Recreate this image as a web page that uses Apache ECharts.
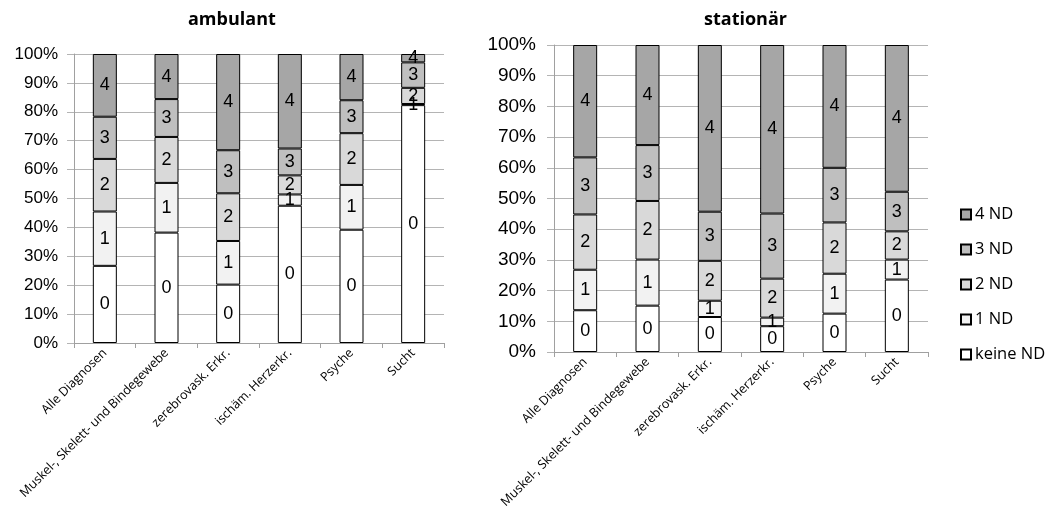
<!DOCTYPE html>
<html>
<head>
<meta charset="utf-8">
<script src="https://cdn.jsdelivr.net/npm/echarts@6/dist/echarts.min.js"></script>
<style>html,body{margin:0;padding:0;background:#fff}#c{width:1051px;height:516px}</style>
</head>
<body>
<div id="c"></div>
<script>
const categories = ['Alle Diagnosen', 'Muskel-, Skelett- und Bindegewebe', 'zerebrovask. Erkr.', 'ischäm. Herzerkr.', 'Psyche', 'Sucht'];
const seriesNames = ['keine ND', '1 ND', '2 ND', '3 ND', '4 ND'];
const segLabels = ['0', '1', '2', '3', '4'];
const titles = ['ambulant', 'stationär'];

// ambulant (percent)
const amb0 = [26.7, 38.2, 20.2, 47.5, 39.2, 82.3];
const amb1 = [18.8, 17.2, 15.1, 3.9, 15.5, 0.4];
const amb2 = [18.2, 15.9, 16.5, 6.6, 17.9, 5.6];
const amb3 = [14.6, 13.1, 14.9, 9.3, 11.4, 8.8];
const amb4 = [21.7, 15.6, 33.3, 32.7, 16.0, 2.9];

// stationär (percent)
const sta0 = [13.6, 15.1, 11.4, 8.4, 12.5, 23.6];
const sta1 = [13.2, 15.0, 5.3, 2.8, 13.0, 6.5];
const sta2 = [18.0, 19.1, 13.0, 12.7, 16.7, 9.2];
const sta3 = [18.6, 18.2, 16.0, 21.2, 17.8, 12.9];
const sta4 = [36.6, 32.6, 54.3, 54.9, 40.0, 47.8];

const colors = ['#ffffff', '#f2f2f2', '#d9d9d9', '#bfbfbf', '#a6a6a6'];
const ambData = [amb0, amb1, amb2, amb3, amb4];
const staData = [sta0, sta1, sta2, sta3, sta4];

function makeSeries(dataSets, idx, stackName, fontSize) {
  return dataSets.map((d, i) => ({
    name: seriesNames[i],
    type: 'bar',
    stack: stackName,
    xAxisIndex: idx,
    yAxisIndex: idx,
    barWidth: 24,
    data: d,
    itemStyle: { color: colors[i], borderColor: '#000', borderWidth: 1 },
    label: {
      show: true,
      position: 'inside',
      formatter: segLabels[i],
      color: '#000',
      fontFamily: 'Liberation Sans',
      fontSize: fontSize
    },
    emphasis: { disabled: true }
  }));
}

const axisLineColor = '#a0a0a0';
const gridLineColor = '#b4b4b4';

function xAx(idx) {
  return {
    type: 'category', gridIndex: idx, data: categories,
    axisLine: { lineStyle: { color: axisLineColor } },
    axisTick: { show: true, length: 5, lineStyle: { color: axisLineColor } },
    axisLabel: { rotate: 45, interval: 0, margin: 8, fontFamily: 'Open Sans', fontSize: 12.5, color: '#000' }
  };
}
function yAx(idx, fs, margin) {
  return {
    type: 'value', gridIndex: idx, min: 0, max: 100, interval: 10,
    axisLine: { show: true, lineStyle: { color: axisLineColor } },
    axisTick: { show: true, inside: false, length: 7, lineStyle: { color: gridLineColor } },
    splitLine: { lineStyle: { color: gridLineColor } },
    axisLabel: { formatter: '{value}%', margin: margin, fontFamily: 'Liberation Sans', fontSize: fs, color: '#000' }
  };
}

const chart = echarts.init(document.getElementById('c'), null, { renderer: 'canvas' });
chart.setOption({
  animation: false,
  backgroundColor: '#fff',
  title: [
    { text: titles[0], left: 183, top: 6, textStyle: { fontFamily: 'Open Sans', fontWeight: 'bold', fontSize: 18, color: '#000' } },
    { text: titles[1], left: 699, top: 6, textStyle: { fontFamily: 'Open Sans', fontWeight: 'bold', fontSize: 18, color: '#000' } }
  ],
  legend: {
    orient: 'vertical',
    left: 955, top: 201,
    data: ['4 ND', '3 ND', '2 ND', '1 ND', 'keine ND'],
    icon: 'rect',
    itemWidth: 10, itemHeight: 10, itemGap: 18,
    selectedMode: false,
    textStyle: { fontFamily: 'Open Sans', fontSize: 16.5, color: '#000', padding: [0, 0, 0, -1] }
  },
  grid: [
    { left: 74, right: 607, top: 54, bottom: 173 },
    { left: 554, right: 123, top: 45, bottom: 164 }
  ],
  xAxis: [xAx(0), xAx(1)],
  yAxis: [yAx(0, 17, 16), yAx(1, 19, 18)],
  series: [...makeSeries(ambData, 0, 'amb', 18), ...makeSeries(staData, 1, 'sta', 18)]
});
</script>
</body>
</html>
